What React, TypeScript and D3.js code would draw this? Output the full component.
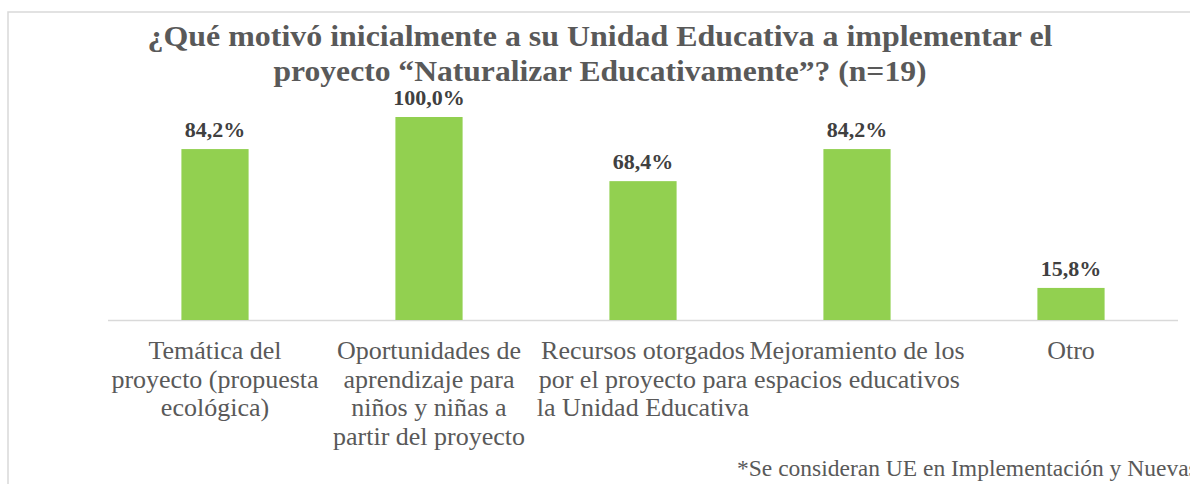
import React from "react";
import * as d3 from "d3";

const categories: string[][] = [
  ["Temática del", "proyecto (propuesta", "ecológica)"],
  ["Oportunidades de", "aprendizaje para", "niños y niñas a", "partir del proyecto"],
  ["Recursos otorgados", "por el proyecto para", "la Unidad Educativa"],
  ["Mejoramiento de los", "espacios educativos"],
  ["Otro"],
];
const values: number[] = [84.2, 100.0, 68.4, 84.2, 15.8];
const titleLines: string[] = [
  "¿Qué motivó inicialmente a su Unidad Educativa a implementar el",
  "proyecto “Naturalizar Educativamente”? (n=19)",
];
const footnote = "*Se consideran UE en Implementación y Nuevas";

const W = 1190;
const H = 484;
const FONT = "Liberation Serif, serif";

export default function App() {
  const x = d3
    .scaleBand<number>()
    .domain(values.map((_, i) => i))
    .range([108, 1178])
    .paddingInner(0.686)
    .paddingOuter(0.343);
  const y = d3.scaleLinear().domain([0, 100]).range([320, 117]);
  const fmt = (v: number) => v.toFixed(1).replace(".", ",") + "%";

  return (
    <svg
      width={W}
      height={H}
      style={{ position: "absolute", left: 0, top: 0, fontFamily: FONT }}
    >
      <rect x={0} y={0} width={W} height={H} fill="#ffffff" />
      <rect x={8} y={12} width={W + 20} height={H} fill="none" stroke="#d9d9d9" strokeWidth={1.5} />
      {titleLines.map((t, i) => (
        <text
          key={i}
          x={600}
          y={46 + i * 35}
          textAnchor="middle"
          fontSize={30}
          fontWeight="bold"
          fill="#595959"
          style={{ fontFamily: FONT }}
          textLength={i === 0 ? 905 : 653}
          lengthAdjust="spacingAndGlyphs"
        >
          {t}
        </text>
      ))}
      <line x1={108} x2={1178} y1={320.5} y2={320.5} stroke="#d9d9d9" strokeWidth={1.5} />
      {values.map((v, i) => (
        <g key={i}>
          <rect
            x={x(i)!}
            y={y(v)}
            width={x.bandwidth()}
            height={y(0) - y(v)}
            fill="#92d050"
          />
          <text
            x={x(i)! + x.bandwidth() / 2}
            y={y(v) - 12}
            textAnchor="middle"
            fontSize={22}
            fontWeight="bold"
            fill="#404040"
            style={{ fontFamily: FONT }}
          >
            {fmt(v)}
          </text>
          {categories[i].map((line, j) => (
            <text
              key={j}
              x={x(i)! + x.bandwidth() / 2}
              y={359 + j * 28.5}
              textAnchor="middle"
              fontSize={26}
              fill="#595959"
              style={{ fontFamily: FONT }}
            >
              {line}
            </text>
          ))}
        </g>
      ))}
      <text x={737} y={476} fontSize={23.5} fill="#595959" style={{ fontFamily: FONT }}>
        {footnote}
      </text>
    </svg>
  );
}
